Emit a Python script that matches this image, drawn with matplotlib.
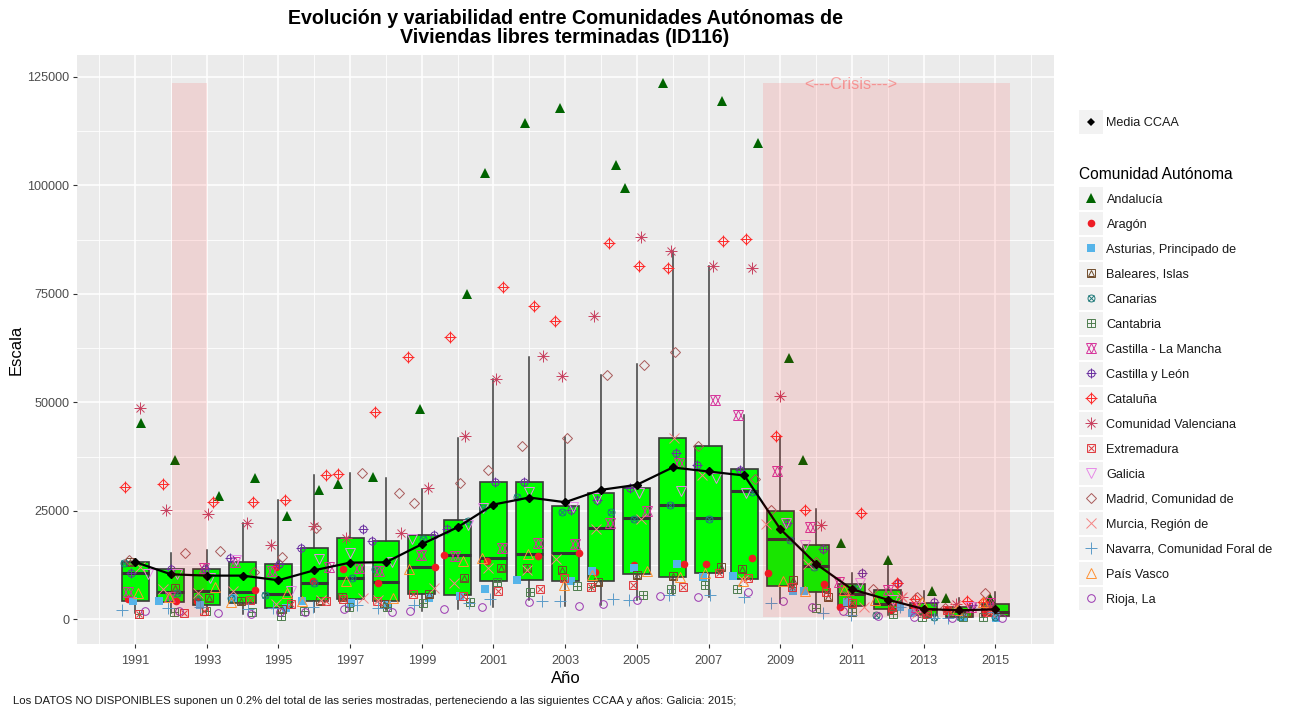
"""
Evolucion y variabilidad entre CCAA: boxplot per year with the jittered
regions on top and the crisis periods shaded.
"""

import matplotlib

matplotlib.use("Agg")
import matplotlib.pyplot as plt
import numpy as np
from matplotlib.patches import Rectangle

plt.rcParams["font.family"] = ["Liberation Sans", "DejaVu Sans"]

W, H = 1299, 710
years = list(range(1991, 2016))

# box statistics per year
box_whislo = [1400, 1500, 2150, 1150, 1000, 1770, 2150, 2150, 1900, 2380, 2900, 4460, 3000, 3300, 4460,
              5600, 5200, 9100, 3690, 2150, 1380, 1000, 230, 150, 150]
box_q1 = [4300, 4075, 3300, 3850, 2700, 4150, 4610, 4150, 5920, 5600, 8770, 9000, 8770, 8920, 10380,
          9690, 10600, 9300, 7600, 6380, 3150, 2460, 1000, 540, 770]
box_med = [10770, 6230, 6460, 6230, 5770, 8380, 9600, 8530, 12000, 14760, 14070, 15070, 15380, 21150, 23300,
           26300, 23300, 29600, 18460, 12380, 5770, 3540, 2300, 1920, 1610]
box_q3 = [13230, 11600, 11600, 13300, 12770, 16460, 18690, 18000, 19450, 22840, 31680, 31680, 26070, 29220, 30380,
          41900, 40000, 34600, 25070, 17230, 8070, 6840, 3690, 2850, 3610]
box_whishi = [13230, 15380, 16000, 22150, 27530, 33300, 33680, 32600, 30070, 41900, 55300, 60400, 41990, 56270, 58800,
              84900, 81400, 47140, 42140, 25380, 10770, 14070, 6540, 4840, 6230]
media = [13200, 10380, 10070, 10070, 9000, 11300, 13070, 13150, 17300, 21220, 26450, 28070, 26990, 29840, 31000,
         35000, 34070, 33150, 20840, 12770, 6920, 4540, 2380, 2080, 2300]

# region values and their jitter (in years)
andalucia = [45200, 36700, 28500, 32500, 23700, 29700, 31200, 32800, 48500, 75000, 102800, 114500, 117800, 104800, 99500,
             123700, 119500, 109800, 60200, 36700, 17600, 13700, 6500, 5000, 4800]
andalucia_j = [.17, .12, .34, .35, .24, .13, -.33, -.36, -.05, .27, -.23, -.12, -.14, .42, -.33,
               -.27, .38, .39, .25, -.36, -.3, .01, .24, -.37, -.14]
aragon = [4770, 4150, 4300, 6840, 12150, 8920, 11610, 8300, 12000, 14760, 13460, 14690, 15380, 11000, 12530,
          12770, 12770, 14230, 10690, 8150, 2920, 2150, 2900, 2150, 1770]
aragon_j = [-.21, .13, -.27, .36, -.06, -.04, -.21, -.22, .38, -.37, -.19, .25, .38, -.17, -.09,
            .32, -.06, .2, -.35, .23, -.33, .1, -.28, -.35, -.28]
asturias = [4300, 4300, 3300, 4840, 2610, 4150, 3850, 3300, 4840, 5300, 6920, 9000, 8770, 11230, 11920,
            12770, 9840, 10070, 6610, 6610, 4070, 2920, 1380, 460, 230]
asturias_j = [-.07, -.33, -.18, -.26, .2, -.35, .02, .02, .19, .07, -.25, -.33, .16, -.26, -.09,
              .11, -.14, -.33, .37, -.33, -.14, .34, -.33, .11, .01]
baleares = [13300, 7150, 4840, 4300, 2300, 4150, 5230, 3460, 5770, 9610, 11840, 11920, 11460, 8690, 10230,
            10070, 12150, 11690, 9070, 5080, 3850, 2920, 1380, 1400, 2150]
baleares_j = [-.14, .11, .07, -.04, .09, .16, -.22, -.06, .2, .17, .2, -.06, -.08, -.07, 0,
              0, .35, -.07, .37, .34, 0, .11, .09, .2, -.14]
canarias = [12920, 6000, 5230, 4840, 5610, 8460, 9610, 11610, 18460, 22760, 25610, 28300, 24760, 24760, 23070,
            26300, 23220, 29450, 18300, 12150, 7150, 1000, 460, 460, 600]
canarias_j = [-.31, .16, -.23, -.31, -.37, 0, .05, -.31, .03, .3, -.28, -.33, -.1, .27, -.07,
              -.07, 0, .2, .26, -.06, .14, -.33, .28, .02, 0]
cantabria = [1230, 1770, 2000, 1770, 770, 1920, 2920, 2920, 3850, 3920, 8610, 6380, 7770, 7530, 5610,
             7000, 8000, 7000, 7540, 2690, 1770, 1230, 620, 460, 620]
cantabria_j = [.12, .08, -.02, .27, .06, -.28, -.03, .02, .03, .35, .11, .03, .33, -.28, .17,
               -.05, -.1, -.21, .33, 0, 0, .14, -.05, .11, -.35]
clm = [6380, 5230, 11770, 13300, 11150, 12150, 11920, 11150, 14840, 14610, 16380, 17610, 17380, 22300, 25000,
       36000, 50600, 47140, 34070, 21380, 8690, 6770, 2920, 2900, 3690]
clm_j = [-.19, -.03, -.08, -.2, -.19, .42, .24, -.19, -.02, -.07, .24, .24, .28, .25, .28,
         .18, .19, -.17, -.1, -.16, -.37, .02, -.2, .32, -.14]
cyl = [10770, 11600, 11700, 14070, 12840, 16460, 20840, 18070, 19530, 20760, 31760, 31680, 25150, 27600, 30300,
       38220, 35530, 34450, 22150, 16150, 10690, 8460, 4080, 3300, 2900]
cyl_j = [-.1, 0, -.05, -.35, .02, -.36, .35, -.39, .33, -.31, .05, -.15, .17, -.1, -.19,
         .08, -.33, -.12, .19, .19, .27, .3, .3, .34, -.14]
cataluna = [30400, 31300, 27150, 27150, 27450, 33200, 33600, 47680, 60400, 65000, 76500, 72250, 68800, 86700, 81500,
            80900, 87200, 87600, 42140, 25300, 24450, 8460, 4600, 4300, 4080]
cataluna_j = [-.28, -.22, .18, .28, .18, .32, -.34, -.31, -.38, -.2, .27, .13, -.29, .21, .05,
              -.12, .4, .06, -.12, -.32, .25, .25, -.23, .22, -.34]
valenciana = [48600, 25150, 24380, 22150, 17150, 21530, 18690, 20000, 30200, 42200, 55500, 60650, 56100, 69800, 88170,
              84950, 81480, 81000, 51400, 21840, 5500, 5200, 1800, 3500, 2900]
valenciana_j = [.13, -.15, .03, .13, -.22, 0, -.12, .42, .16, .21, .08, .37, -.1, -.2, .11,
                -.04, .12, .22, 0, .13, -.1, .4, 0, -.1, -.15]
extremadura = [1230, 1540, 1850, 4460, 3540, 4300, 4610, 4300, 5920, 5380, 6610, 7000, 9460, 7530, 8000,
               7540, 10770, 9460, 7540, 6380, 3690, 2770, 1150, 2150, 1600]
extremadura_j = [.12, .37, -.09, .22, .34, .34, -.19, -.26, -.25, .15, .13, .29, -.04, -.28, -.1,
                 .28, .28, .11, .33, .27, 0, .11, .09, -.35, -.23]
galicia = [10460, 10460, 9460, 13690, 6610, 13840, 15380, 13300, 18460, 21760, 25610, 29450, 26000, 27900, 29070,
           29600, 32530, 29000, 22150, 17150, 8300, 4460, 2920, 2920, np.nan]
galicia_j = [.37, .16, .09, -.17, .34, .12, 0, .16, -.28, .3, -.28, 0, .23, -.1, .07,
             .22, .21, .05, .17, -.3, .23, .16, -.09, .3, 0]
madrid = [13690, 15300, 15840, 10920, 14300, 21000, 33760, 29000, 26760, 31530, 34530, 40000, 41900, 56340, 58650,
          61650, 40000, 32450, 25220, 13300, 7100, 6900, 5230, 2500, 6150]
madrid_j = [-.16, .38, .36, .33, .1, .04, .33, .36, -.23, .08, -.15, -.19, .04, .18, .21,
            .07, -.28, .31, -.26, 0, -.2, -.4, -.19, -.4, -.28]
murcia = [12150, 6920, 6000, 6610, 3540, 4460, 4840, 4460, 7150, 8300, 11770, 11380, 13840, 20840, 23150,
          41750, 33300, 9000, 22000, 12770, 2920, 5230, 1400, 2900, 1770]
murcia_j = [.14, -.21, -.23, -.28, -.06, .2, .37, -.23, .35, -.11, -.16, -.07, -.26, -.15, .13,
            .04, -.19, -.03, -.39, -.21, .33, .39, -.19, -.12, -.14]
navarra = [2230, 2540, 2920, 2300, 2690, 2920, 3300, 2540, 3300, 3690, 4690, 4300, 4300, 4690, 4460,
           5610, 5530, 5200, 3690, 1540, 1000, 2920, 230, 230, 1770]
navarra_j = [-.37, -.07, -.19, .16, -.16, -.03, .19, -.23, -.23, .31, -.09, .36, -.13, .33, -.23,
             -.09, .03, 0, -.26, .19, -.03, .34, .28, -.31, -.05]
pais_vasco = [6000, 5230, 7530, 4070, 6150, 4300, 8840, 5000, 11610, 13460, 14230, 15070, 7920, 10230, 11230,
              9840, 10610, 8840, 8840, 6540, 6770, 4460, 4080, 2150, 4080]
pais_vasco_j = [.09, -.05, .23, -.33, .23, -.33, -.12, .2, -.35, .16, -.31, -.03, -.03, -.26, .28,
                .2, -.09, -.03, .07, -.31, -.23, -.35, -.05, -.07, -.33]
rioja = [1850, 1850, 1540, 1150, 1770, 1620, 2460, 1690, 1920, 2380, 2920, 4070, 3150, 3610, 4460,
         5380, 5230, 6380, 4150, 2850, 2000, 770, 460, 230, 230]
rioja_j = [.27, .23, .32, .23, .05, -.26, -.16, .16, -.33, -.39, -.33, -.02, .4, .07, .01,
           -.35, -.29, .09, .08, -.12, -.26, -.26, -.28, -.21, .19]

crisis_spans = [(1992.03, 1993.0), (2008.52, 2015.4)]
crisis_top = 123700
crisis_bottom = 450
crisis_label_x = 2010.97

# name, values, jitter, colour, overlaid markers (matplotlib marker, size in pt)
regions = [
    ("Andalucía", andalucia, andalucia_j, "#006400", [("^f", 6.5)]),
    ("Aragón", aragon, aragon_j, "#EE1C25", [("of", 5.5)]),
    ("Asturias, Principado de", asturias, asturias_j, "#56B4E9", [("sf", 5.5)]),
    ("Baleares, Islas", baleares, baleares_j, "#6E4B2A", [("s", 5.8), ("^", 5)]),
    ("Canarias", canarias, canarias_j, "#1F7A7A", [("o", 5), ("x", 4)]),
    ("Cantabria", cantabria, cantabria_j, "#4E7D4E", [("s", 5.8), ("+", 5.8)]),
    ("Castilla - La Mancha", clm, clm_j, "#D6339B", [("^", 7), ("v", 7)]),
    ("Castilla y León", cyl, cyl_j, "#6A2FA0", [("o", 5.2), ("+", 6.5)]),
    ("Cataluña", cataluna, cataluna_j, "#FF2A2A", [("D", 5.6), ("+", 8)]),
    ("Comunidad Valenciana", valenciana, valenciana_j, "#C8405F", [("+", 8), ("x", 6)]),
    ("Extremadura", extremadura, extremadura_j, "#E0393E", [("s", 6), ("x", 5)]),
    ("Galicia", galicia, galicia_j, "#E78AE7", [("v", 7.5)]),
    ("Madrid, Comunidad de", madrid, madrid_j, "#A85A5A", [("D", 5.6)]),
    ("Murcia, Región de", murcia, murcia_j, "#F58585", [("x", 7)]),
    ("Navarra, Comunidad Foral de", navarra, navarra_j, "#5B9BC8", [("+", 8.5)]),
    ("País Vasco", pais_vasco, pais_vasco_j, "#FF9233", [("^", 7.5)]),
    ("Rioja, La", rioja, rioja_j, "#9A35B0", [("o", 5.5)]),
]


def draw_marker(ax, xs, ys, color, shapes, zorder):
    for shape, size in shapes:
        filled = shape.endswith("f")
        ax.plot(xs, ys, ls="none", marker=shape[0], ms=size, mew=0.7 if not filled else 0,
                mec=color, mfc=color if filled else "none", zorder=zorder)


fig = plt.figure(figsize=(W / 100, H / 100), dpi=100)
ax = fig.add_axes([77 / W, 1 - 644.3 / H, (1054 - 77) / W, (644.3 - 55) / H])
ax.set_facecolor("#EBEBEB")
for spine in ax.spines.values():
    spine.set_visible(False)
ax.set_xlim(1989.38, 2016.64)
ax.set_ylim(-5760, 130070)

ax.set_xticks(years[::2])
ax.set_xticks(np.arange(1990, 2017, 2), minor=True)
ax.set_yticks(np.arange(0, 125001, 25000))
ax.set_yticks(np.arange(12500, 125000, 25000), minor=True)
ax.grid(which="major", color="white", lw=1.1)
ax.grid(which="minor", color="white", lw=0.6)
ax.set_axisbelow(True)
ax.tick_params(which="major", length=3, width=0.8, color="#333333", labelcolor="#4D4D4D", labelsize=9.1, pad=2.5)
ax.tick_params(axis="x", which="major", pad=5)
ax.tick_params(which="minor", length=0)
ax.set_xlabel("Año", fontsize=12, labelpad=2.5)
ax.set_ylabel("Escala", fontsize=12, labelpad=2.5)

stats = [
    {"whislo": lo, "q1": q1, "med": med, "q3": q3, "whishi": hi}
    for lo, q1, med, q3, hi in zip(box_whislo, box_q1, box_med, box_q3, box_whishi)
]
ax.bxp(
    stats, positions=years, widths=0.75, showcaps=False, showfliers=False, patch_artist=True, manage_ticks=False,
    boxprops={"facecolor": "#00FF00", "edgecolor": "#3A3A3A", "linewidth": 1.2},
    medianprops={"color": "#333333", "linewidth": 2.2},
    whiskerprops={"color": "#3A3A3A", "linewidth": 1.1},
    zorder=2,
)

for name, values, jitter, color, shapes in regions:
    draw_marker(ax, np.array(years) + np.array(jitter), values, color, shapes, 3)

ax.plot(years, media, color="black", lw=1.6, marker="D", ms=3.8, zorder=4)

for x0, x1 in crisis_spans:
    ax.add_patch(Rectangle((x0, crisis_bottom), x1 - x0, crisis_top - crisis_bottom,
                           facecolor="red", alpha=0.1, lw=0, zorder=5))
ax.text(crisis_label_x, crisis_top - 500, "<---Crisis--->", color="#FF4040", alpha=0.45,
        fontsize=11.8, ha="center", va="center", zorder=6)

fig.text(565 / W, 1 - 28 / H, "Evolución y variabilidad entre Comunidades Autónomas de\nViviendas libres terminadas (ID116)",
         fontsize=14.1, fontweight="bold", ha="center", va="center", linespacing=1.05)
fig.text(13 / W, 1 - 701 / H,
         "Los DATOS NO DISPONIBLES suponen un 0.2% del total de las series mostradas, "
         "perteneciendo a las siguientes CCAA y años: Galicia: 2015;",
         fontsize=8.2, ha="left", va="center", color="#1A1A1A")

# legend on an overlay in pixel coordinates
leg = fig.add_axes([0, 0, 1, 1], facecolor="none")
leg.set_xlim(0, W)
leg.set_ylim(H, 0)
leg.axis("off")


def legend_row(label, yc, color, shapes):
    leg.add_patch(Rectangle((1079.5, yc - 11.7), 23.4, 23.4, facecolor="#F2F2F2", lw=0))
    draw_marker(leg, [1091.2], [yc - 0.5], color, shapes, 3)
    leg.text(1106.5, yc + 1, label, fontsize=9.1, va="center", ha="left", color="#1A1A1A")


legend_row("Media CCAA", 122, "black", [("Df", 4.4)])
leg.text(1079, 174.5, "Comunidad Autónoma", fontsize=11.2, va="center", ha="left")
for i, (name, values, jitter, color, shapes) in enumerate(regions):
    legend_row(name, 198.7 + 25 * i, color, shapes)

fig.savefig("out.png", dpi=100)
